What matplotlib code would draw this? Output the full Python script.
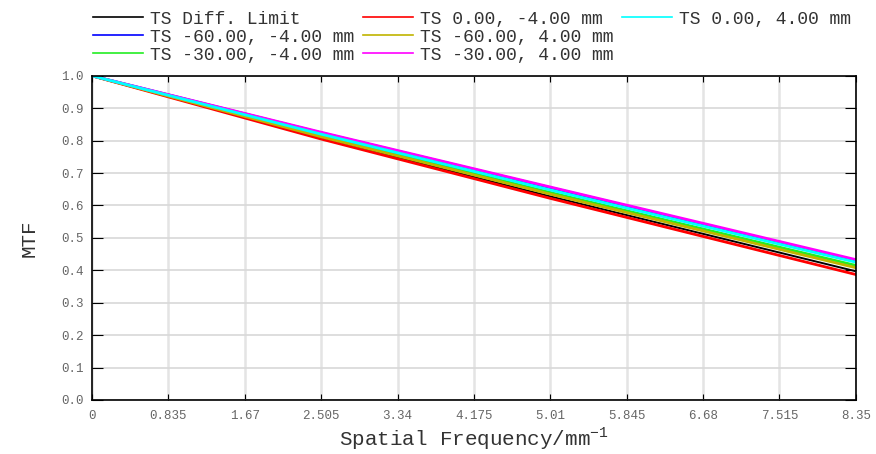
import matplotlib
matplotlib.use("Agg")
import matplotlib.pyplot as plt
from matplotlib.lines import Line2D

plt.rcParams['font.family'] = ['Liberation Mono', 'DejaVu Sans Mono']

freq = [0, 2.505, 5.01, 8.35]
xticks = [0, 0.835, 1.67, 2.505, 3.34, 4.175, 5.01, 5.845, 6.68, 7.515, 8.35]
xtick_labels = ["0", "0.835", "1.67", "2.505", "3.34", "4.175", "5.01",
                "5.845", "6.68", "7.515", "8.35"]
yticks = [0.0, 0.1, 0.2, 0.3, 0.4, 0.5, 0.6, 0.7, 0.8, 0.9, 1.0]

diff_limit = [1.0, 0.808, 0.628, 0.397]
f0_m4 = [1.0, 0.805, 0.622, 0.387]
f0_p4 = [1.0, 0.820, 0.648, 0.425]
f60_m4 = [1.0, 0.824, 0.655, 0.430]
f60_p4 = [1.0, 0.812, 0.635, 0.408]
f30_m4 = [1.0, 0.815, 0.640, 0.415]
f30_p4 = [1.0, 0.826, 0.657, 0.433]

series = [
    ("TS Diff. Limit", diff_limit, "#000000"),
    ("TS -60.00, -4.00 mm", f60_m4, "#0000ff"),
    ("TS -30.00, -4.00 mm", f30_m4, "#22ee22"),
    ("TS 0.00, -4.00 mm", f0_m4, "#ff0000"),
    ("TS -60.00, 4.00 mm", f60_p4, "#c0b400"),
    ("TS -30.00, 4.00 mm", f30_p4, "#ff00ff"),
    ("TS 0.00, 4.00 mm", f0_p4, "#00ffff"),
]

fig = plt.figure(figsize=(8.76, 4.54), dpi=100)
ax = fig.add_axes([0.105, 0.119, 0.872, 0.714])

handles = []
for label, vals, color in series:
    lw = 1.4 if color == "#000000" else 2
    h, = ax.plot(freq, vals, color=color, lw=lw, label=label)
    handles.append(h)
# two empty slots so the third legend column holds one entry
blank = Line2D([], [], color='none', label=' ')
handles += [blank, blank]

ax.set_xlim(0, 8.35)
ax.set_ylim(0, 1.0)
ax.set_xticks(xticks)
ax.set_xticklabels(xtick_labels)
ax.set_yticks(yticks)
ax.set_yticklabels([f"{v:.1f}" for v in yticks])
ax.tick_params(axis='both', direction='in', top=True, right=True,
               labelsize=9, labelcolor='#666666', color='black')
ax.tick_params(axis='y', length=8, pad=6)
ax.tick_params(axis='x', length=4, pad=7)
ax.grid(True, axis='x', color='#e4e4e4', lw=1.8)
ax.grid(True, axis='y', color='#d8d8d8', lw=1.2)
for s in ax.spines.values():
    s.set_linewidth(1.2)

ax.set_xlabel("Spatial Frequency/mm$^{\\mathregular{-1}}$", fontsize=15,
              color='#333333', labelpad=3)
ax.set_ylabel("MTF", fontsize=15, color='#333333', labelpad=16)

leg = fig.legend(handles=handles, ncol=3, loc='upper left', bbox_to_anchor=(0.088, 1.012),
                 frameon=False, fontsize=13, handlelength=2.75, handletextpad=0.38,
                 columnspacing=0.5, labelspacing=0.05, borderpad=0.4,
                 labelcolor='#333333')
for l in leg.get_lines():
    l.set_linewidth(1.2)

fig.savefig("out.png", dpi=100)
